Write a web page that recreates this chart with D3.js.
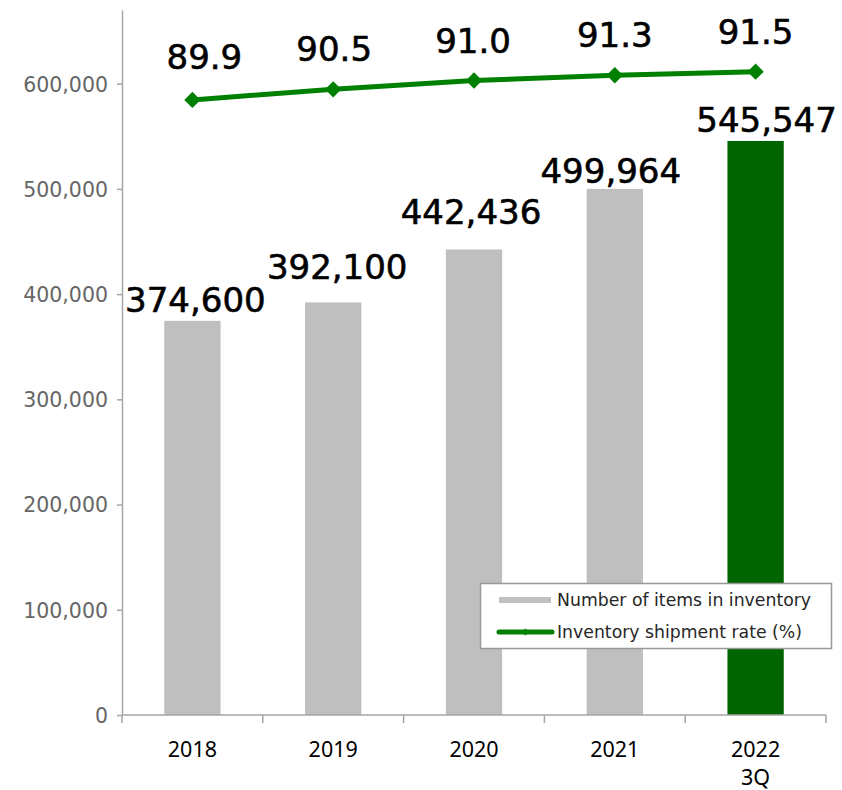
<!DOCTYPE html>
<html>
<head>
<meta charset="utf-8">
<script src="https://cdn.jsdelivr.net/npm/d3@7/dist/d3.min.js"></script>
<style>
  html, body { margin: 0; padding: 0; background: #fff; }
  svg { display: block; }
</style>
</head>
<body>
<svg id="chart" width="842" height="790"></svg>
<script>
// Inventory items (bars) and shipment rate (line), 2018 – 2022 3Q
const categories = ["2018", "2019", "2020", "2021", "2022\n3Q"];
const itemCounts = [374600, 392100, 442436, 499964, 545547];
const shipmentRates = [89.9, 90.5, 91.0, 91.3, 91.5];
const yTicks = [0, 100000, 200000, 300000, 400000, 500000, 600000];
const seriesNames = ["Number of items in inventory", "Inventory shipment rate (%)"];

const svg = d3.select("#chart");
const plot = { left: 122, right: 826, top: 10, bottom: 715 };

const x = d3.scaleBand().domain(categories).range([plot.left, plot.right]).padding(0);
const y = d3.scaleLinear().domain([0, 670000]).range([plot.bottom, plot.top]);
const yRate = d3.scaleLinear().domain([55, 95]).range([plot.bottom, plot.top]);

const axisColor = "#a6a6a6";
const barGray = "#bfbfbf";
const barGreen = "#006400";
const lineGreen = "#008000";
const fontMain = "'DejaVu Sans', Verdana, sans-serif";

// Y axis
const yAxis = d3.axisLeft(y).tickValues(yTicks).tickSize(5).tickSizeOuter(0)
  .tickFormat(d3.format(","));
const gy = svg.append("g").attr("transform", `translate(${plot.left},0)`).call(yAxis);
gy.select(".domain").attr("stroke", axisColor).attr("stroke-width", 1.5);
gy.selectAll(".tick line").attr("stroke", axisColor).attr("stroke-width", 1.5);
gy.selectAll(".tick text")
  .attr("x", -14).attr("dy", "0.36em")
  .attr("fill", "#666").style("font-family", fontMain).style("font-size", "20.5px");

// Bars
const barW = x.bandwidth() * 0.4;
svg.append("g").selectAll("rect")
  .data(itemCounts)
  .join("rect")
  .attr("x", (d, i) => x(categories[i]) + (x.bandwidth() - barW) / 2)
  .attr("y", d => y(d))
  .attr("width", barW)
  .attr("height", d => y(0) - y(d))
  .attr("fill", (d, i) => i === itemCounts.length - 1 ? barGreen : barGray);

// X axis with boundary ticks
svg.append("line")
  .attr("x1", plot.left).attr("x2", plot.right)
  .attr("y1", plot.bottom).attr("y2", plot.bottom)
  .attr("stroke", axisColor).attr("stroke-width", 1.5);
const boundaries = categories.map(c => x(c)).concat([x.range()[1]]);
svg.append("g").selectAll("line")
  .data(boundaries)
  .join("line")
  .attr("x1", d => d).attr("x2", d => d)
  .attr("y1", plot.bottom).attr("y2", plot.bottom + 8)
  .attr("stroke", axisColor).attr("stroke-width", 1.5);

// Category labels, one text per line
const xLabelLines = [];
categories.forEach(c => c.split("\n").forEach((line, k) => xLabelLines.push({ c, line, k })));
svg.append("g").selectAll("text")
  .data(xLabelLines)
  .join("text")
  .attr("x", d => x(d.c) + x.bandwidth() / 2)
  .attr("y", d => 757 + d.k * 28)
  .attr("text-anchor", "middle")
  .attr("fill", "#000")
  .style("font-family", "'Noto Sans', sans-serif")
  .style("font-size", "21.5px")
  .text(d => d.line);

// Bar value labels (hand-placed offsets: [dx, gap above bar])
const barLabelNudge = [[3, 9], [4, 23], [-3, 25], [-4, 6], [11, 9]];
svg.append("g").selectAll("text")
  .data(itemCounts)
  .join("text")
  .attr("x", (d, i) => x(categories[i]) + x.bandwidth() / 2 + barLabelNudge[i][0])
  .attr("y", (d, i) => y(d) - barLabelNudge[i][1])
  .attr("text-anchor", "middle")
  .attr("fill", "#000")
  .attr("stroke", "#000").attr("stroke-width", 0.6)
  .style("font-family", fontMain)
  .style("font-size", "34px")
  .text(d => d3.format(",")(d));

// Shipment-rate line
const linePts = shipmentRates.map((v, i) => [x(categories[i]) + x.bandwidth() / 2, yRate(v)]);
svg.append("path")
  .attr("d", d3.line()(linePts))
  .attr("fill", "none")
  .attr("stroke", lineGreen)
  .attr("stroke-width", 5)
  .attr("stroke-linejoin", "round");

const diamond = d3.symbol().type(d3.symbolDiamond2).size(170);
svg.append("g").selectAll("path")
  .data(linePts)
  .join("path")
  .attr("transform", d => `translate(${d[0]},${d[1]})`)
  .attr("d", diamond)
  .attr("fill", lineGreen);

const rateLabelNudge = [[12, 31], [1, 28], [-1, 28], [0, 28], [0, 28]];
svg.append("g").selectAll("text")
  .data(shipmentRates)
  .join("text")
  .attr("x", (d, i) => linePts[i][0] + rateLabelNudge[i][0])
  .attr("y", (d, i) => linePts[i][1] - rateLabelNudge[i][1])
  .attr("text-anchor", "middle")
  .attr("fill", "#000")
  .attr("stroke", "#000").attr("stroke-width", 0.6)
  .style("font-family", fontMain)
  .style("font-size", "34px")
  .text(d => d.toFixed(1));

// Legend
const legend = svg.append("g");
legend.append("rect")
  .attr("x", 480.5).attr("y", 583.5).attr("width", 351).attr("height", 65)
  .attr("fill", "#fff").attr("stroke", "#999").attr("stroke-width", 1.5);
legend.append("rect")
  .attr("x", 499).attr("y", 597).attr("width", 52).attr("height", 6)
  .attr("fill", barGray);
legend.append("line")
  .attr("x1", 499).attr("x2", 552).attr("y1", 632).attr("y2", 632)
  .attr("stroke", lineGreen).attr("stroke-width", 5).attr("stroke-linecap", "round");
legend.append("path")
  .attr("transform", "translate(525.5,632)")
  .attr("d", d3.symbol().type(d3.symbolDiamond2).size(30))
  .attr("fill", lineGreen);
legend.selectAll("text.lg")
  .data(seriesNames)
  .join("text")
  .attr("class", "lg")
  .attr("x", 557)
  .attr("y", (d, i) => 606 + i * 32)
  .attr("fill", "#262626")
  .style("font-family", fontMain)
  .style("font-size", "17.3px")
  .text(d => d);
</script>
</body>
</html>
